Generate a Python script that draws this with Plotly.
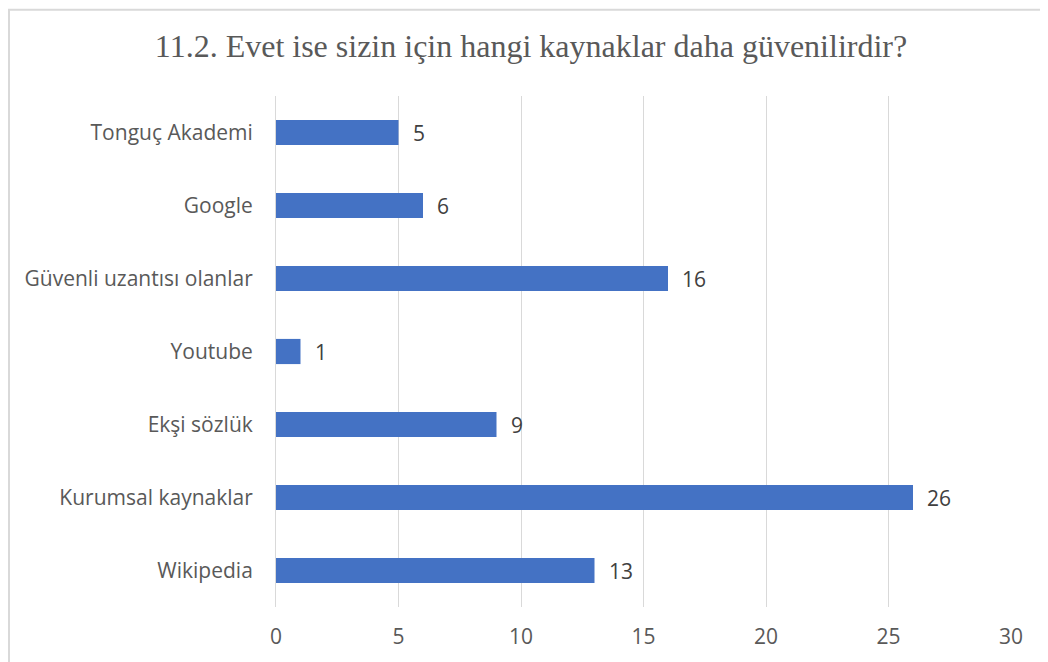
import plotly.graph_objects as go

categories = ["Tonguç Akademi", "Google", "Güvenli uzantısı olanlar", "Youtube",
              "Ekşi sözlük", "Kurumsal kaynaklar", "Wikipedia"]
values = [5, 6, 16, 1, 9, 26, 13]
x_ticks = [0, 5, 10, 15, 20, 25, 30]
title_text = "11.2. Evet ise sizin için hangi kaynaklar daha güvenilirdir?"

FONT = "Open Sans, sans-serif"
FS = 21

fig = go.Figure(go.Bar(
    y=categories, x=values, orientation="h",
    marker=dict(color="#4472C4", line=dict(width=0)),
    width=0.345,
))

for c, v in zip(categories, values):
    fig.add_annotation(x=v, y=c, xref="x", yref="y", text=str(v), showarrow=False,
                       xanchor="left", yanchor="middle", xshift=12,
                       font=dict(family=FONT, size=FS, color="#404040"))

# figure is offset by the 8px page margin
W, H = 1040, 654
L, R, T, B = 268, 37, 88, 51
pw, ph = W - L - R, H - T - B

def px_x(p):
    return (p - 8 - L) / pw

def px_y(p):
    return (H - B - (p - 8)) / ph

fig.add_shape(type="rect", xref="paper", yref="paper",
              x0=px_x(9), x1=px_x(1060), y0=px_y(720), y1=px_y(9),
              line=dict(color="#d9d9d9", width=2), fillcolor="rgba(0,0,0,0)", layer="below")

fig.update_layout(
    width=W, height=H,
    margin=dict(l=L, r=R, t=T, b=B, pad=0),
    paper_bgcolor="white", plot_bgcolor="white",
    title=dict(text=title_text, x=(531 - 8) / W, xref="container", xanchor="center",
               y=1 - (46 - 8) / H, yref="container", yanchor="middle",
               font=dict(family="Liberation Serif, Times New Roman, serif", size=32, color="#595959")),
    xaxis=dict(range=[0, 30], tickvals=x_ticks, showgrid=True, gridcolor="#d9d9d9", gridwidth=1,
               zeroline=False, showline=False, ticks="",
               ticklabelstandoff=15,
               tickfont=dict(family=FONT, size=FS, color="#595959")),
    yaxis=dict(autorange="reversed", showgrid=False, zeroline=False, showline=True,
               linecolor="#d9d9d9", linewidth=1, ticks="", ticklabelstandoff=18,
               tickfont=dict(family=FONT, size=FS, color="#595959")),
    showlegend=False,
)

fig.write_html("out.html")
